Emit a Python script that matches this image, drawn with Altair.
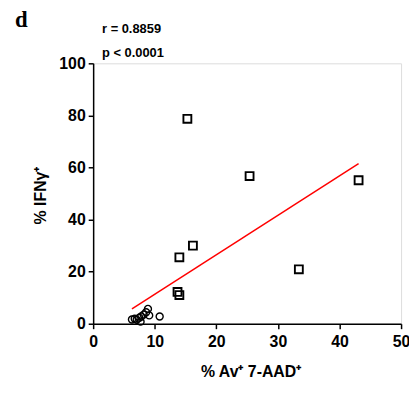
import altair as alt
import pandas as pd

# Open squares
sq_x = [15.3, 25.4, 43.1, 16.2, 14.0, 33.4, 13.7, 14.0]
sq_y = [78.7, 56.7, 55.1, 30.0, 25.5, 20.9, 12.2, 11.0]
# Open circles
ci_x = [6.3, 6.75, 7.07, 7.5, 7.8, 8.2, 8.6, 8.9, 9.1, 7.7, 10.8]
ci_y = [1.6, 1.9, 1.5, 2.3, 2.8, 3.5, 4.4, 5.7, 3.2, 0.8, 2.8]
# Regression line endpoints
fit_x = [6.3, 43.1]
fit_y = [5.7, 61.5]

x_ticks = [0, 10, 20, 30, 40, 50]
y_ticks = [0, 20, 40, 60, 80, 100]

sq = pd.DataFrame({"x": sq_x, "y": sq_y})
ci = pd.DataFrame({"x": ci_x, "y": ci_y})
fit = pd.DataFrame({"x": fit_x, "y": fit_y})

FONT = "Liberation Sans"

xscale = alt.Scale(domain=[0, 50], nice=False)
yscale = alt.Scale(domain=[0, 100], nice=False)

xaxis = alt.Axis(values=x_ticks, title="% Av⁺ 7-AAD⁺", grid=False,
                 labelFont=FONT, labelFontWeight="bold", labelFontSize=16,
                 labelColor="black", labelFlush=False, labelPadding=5,
                 tickSize=5, tickColor="black", domainColor="black",
                 domainWidth=1.5, tickWidth=1.5,
                 titleFont=FONT, titleFontWeight="bold", titleFontSize=16,
                 titleColor="black", titleX=159, titleY=48,
                 titleBaseline="middle")
yaxis = alt.Axis(values=y_ticks, title="% IFNγ⁺", grid=False,
                 labelFont=FONT, labelFontWeight="bold", labelFontSize=16,
                 labelColor="black", labelPadding=3,
                 tickSize=5, tickColor="black", domainColor="black",
                 domainWidth=1.5, tickWidth=1.5,
                 titleFont=FONT, titleFontWeight="bold", titleFontSize=16,
                 titleColor="black", titleX=-53, titleY=133,
                 titleBaseline="middle", titleAngle=270)

squares = alt.Chart(sq).mark_point(shape="square", filled=False, color="black",
                                   size=64, strokeWidth=1.9, opacity=1).encode(
    x=alt.X("x:Q", scale=xscale, axis=xaxis),
    y=alt.Y("y:Q", scale=yscale, axis=yaxis),
)
circles = alt.Chart(ci).mark_point(shape="circle", filled=False, color="black",
                                   size=50, strokeWidth=1.4, opacity=1).encode(
    x=alt.X("x:Q", scale=xscale),
    y=alt.Y("y:Q", scale=yscale),
)
line = alt.Chart(fit).mark_line(color="red", strokeWidth=1.5).encode(
    x=alt.X("x:Q", scale=xscale),
    y=alt.Y("y:Q", scale=yscale),
)

label_d = alt.Chart(pd.DataFrame({"t": ["d"]})).mark_text(
    font="Liberation Serif", fontWeight="bold", fontSize=23, align="left",
    baseline="alphabetic", color="black").encode(
    text="t:N", x=alt.value(-79), y=alt.value(-37))
label_r = alt.Chart(pd.DataFrame({"t": ["r = 0.8859"]})).mark_text(
    font=FONT, fontWeight="bold", fontSize=13, align="left",
    baseline="middle", color="black").encode(
    text="t:N", x=alt.value(9), y=alt.value(-35))
label_p = alt.Chart(pd.DataFrame({"t": ["p < 0.0001"]})).mark_text(
    font=FONT, fontWeight="bold", fontSize=13, align="left",
    baseline="middle", color="black").encode(
    text="t:N", x=alt.value(9), y=alt.value(-10))

chart = alt.layer(line, squares, circles, label_d, label_r, label_p).properties(
    width=311, height=263,
    autosize=alt.AutoSizeParams(type="none"),
    padding={"left": 86, "top": 54, "right": 8, "bottom": 60},
).configure_view(stroke=None).configure(background="white")

chart.save("out.html", embed_options={"renderer": "svg", "actions": False})
